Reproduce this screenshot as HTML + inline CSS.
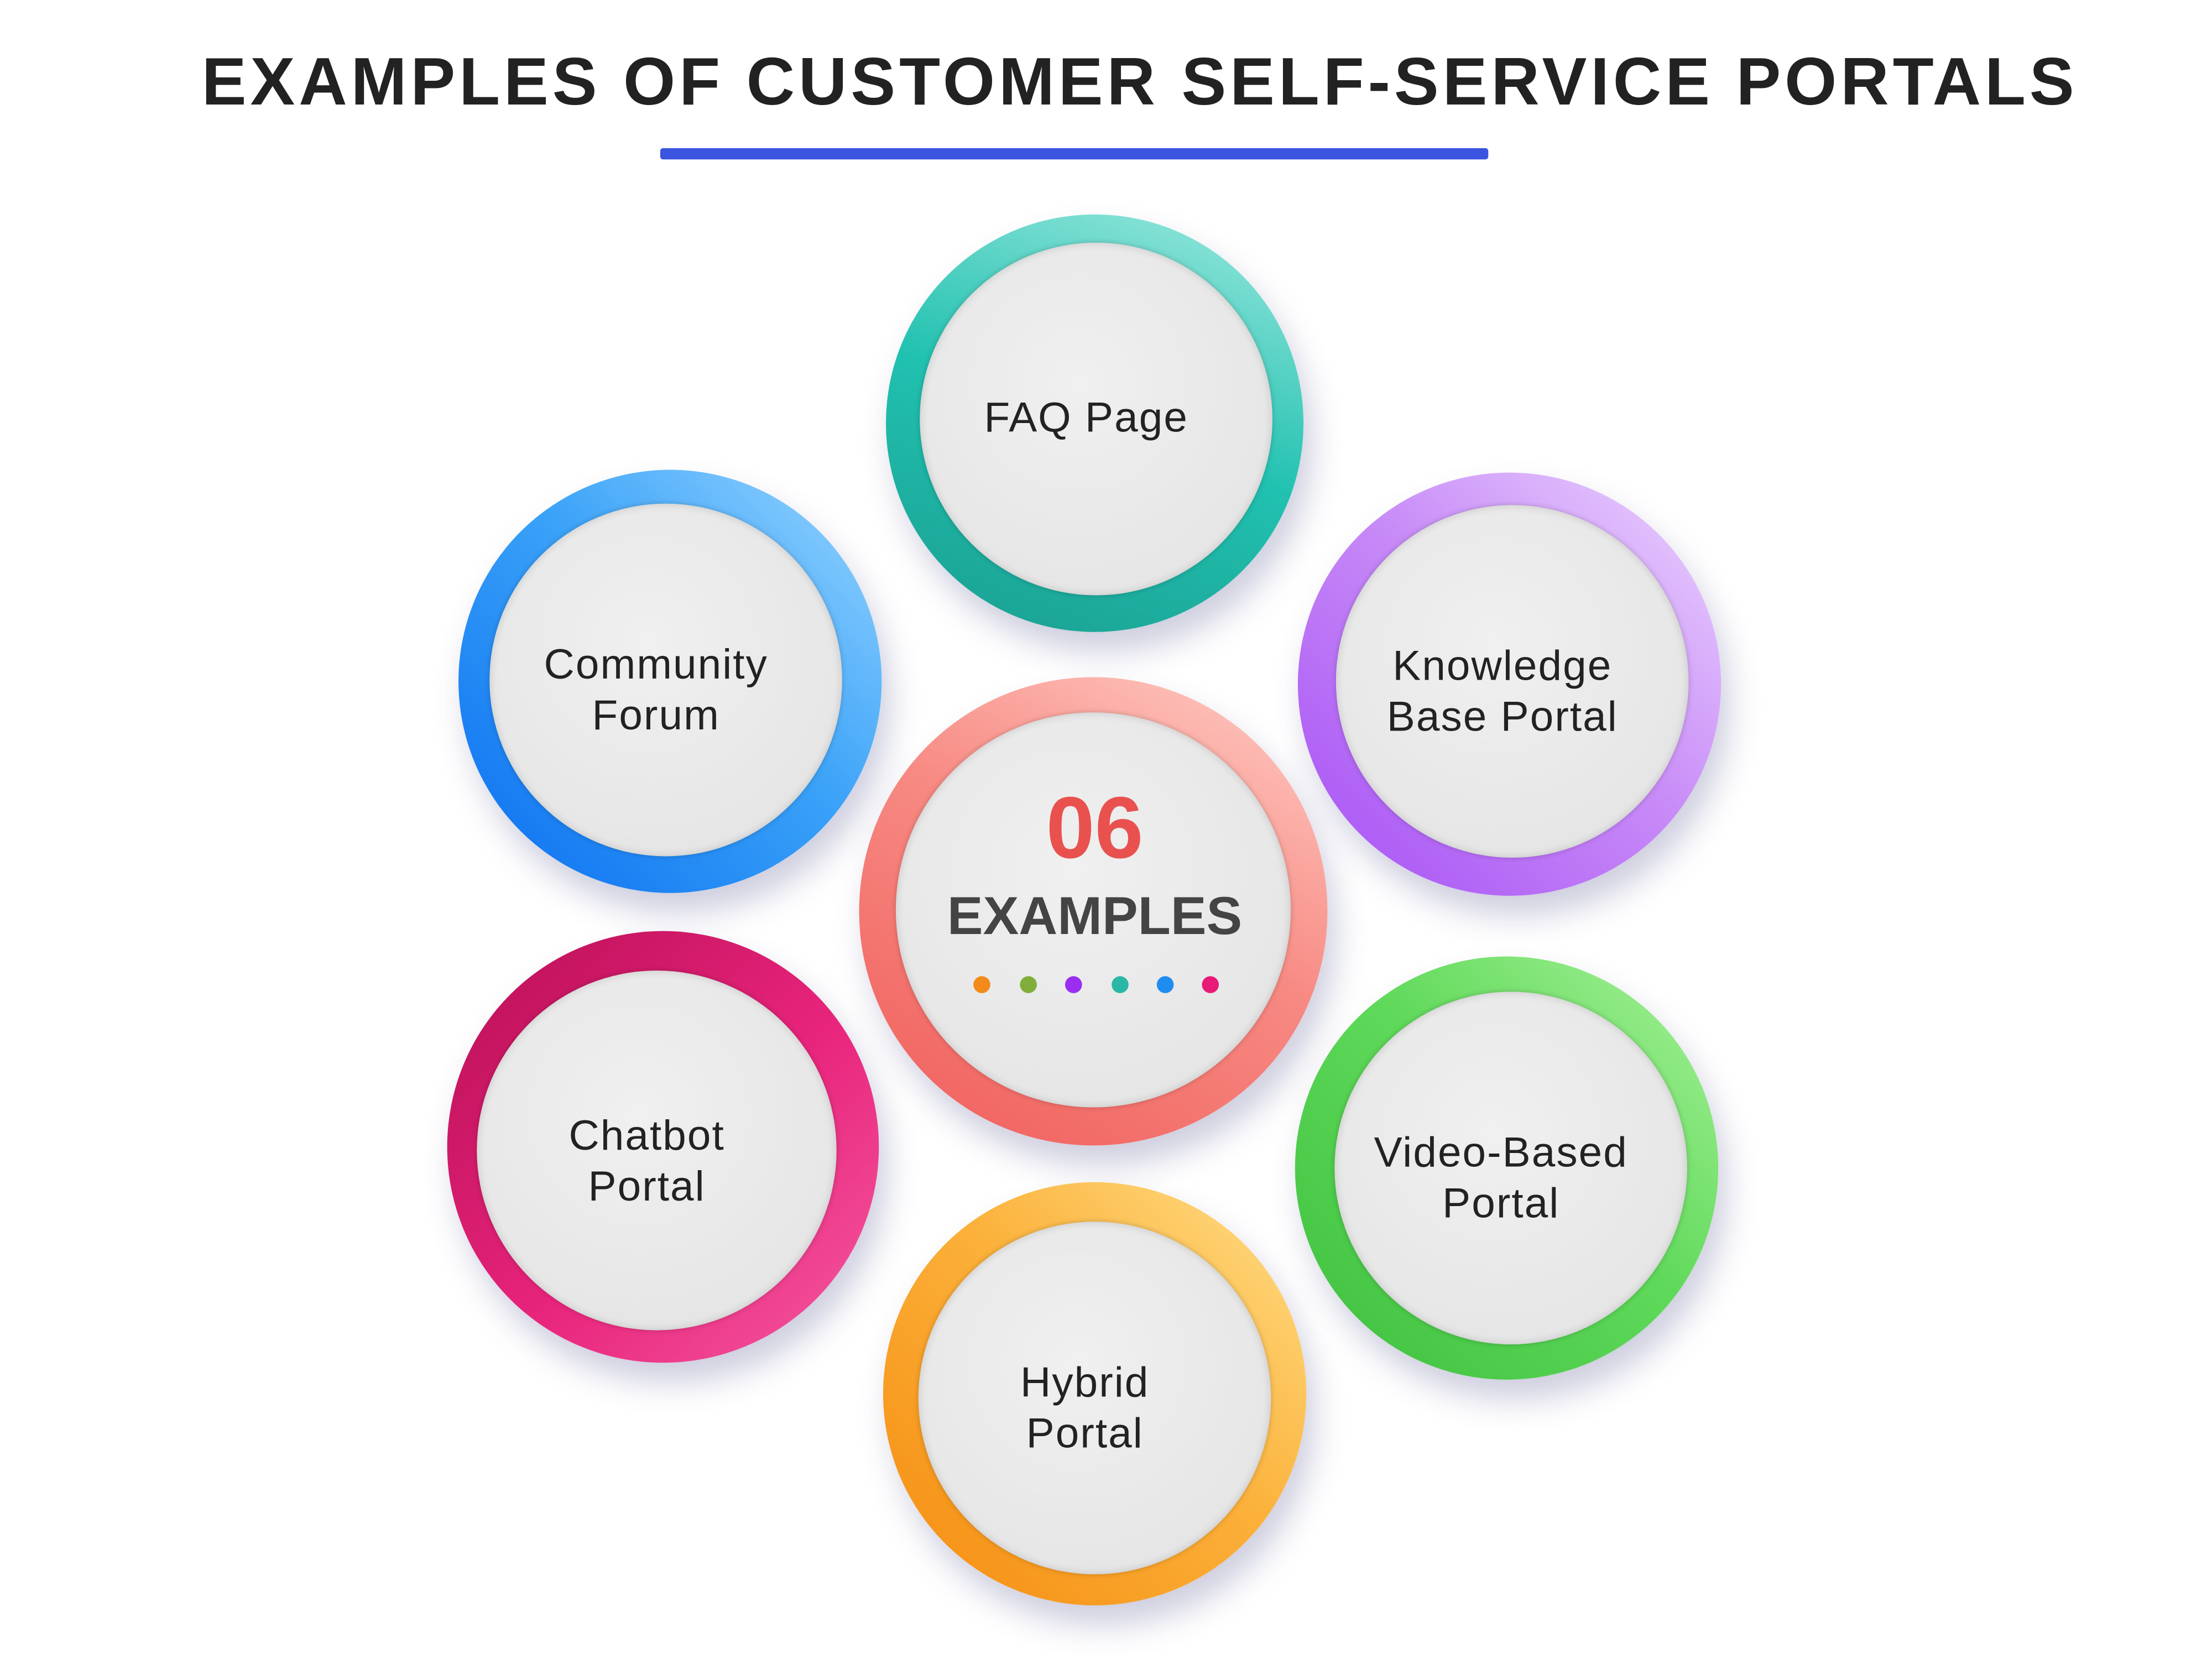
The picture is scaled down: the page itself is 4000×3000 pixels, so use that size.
<!DOCTYPE html>
<html><head><meta charset="utf-8"><style>
html,body{margin:0;padding:0;background:#fff;width:4000px;height:3000px;overflow:hidden}
#s{position:absolute;left:0;top:0;width:1568px;height:1176px;transform:scale(2.551);transform-origin:0 0;font-family:"Liberation Sans",sans-serif}
.t{position:absolute;left:0;width:1616px;top:31px;text-align:center;font-weight:bold;font-size:47.5px;letter-spacing:2.7px;color:#222}
.bar{position:absolute;left:468px;top:105px;width:587px;height:8px;background:#3b55e0;border-radius:2px}
.c{position:absolute;border-radius:50%;box-shadow:6px 14px 22px rgba(80,80,140,.28)}
.i{position:absolute;border-radius:50%;background:radial-gradient(circle at 45% 40%,#f0f0f0,#e2e2e2);box-shadow:inset 0 0 6px rgba(0,0,0,.15),0 0 4px rgba(0,0,0,.2);display:flex;align-items:center;justify-content:center;text-align:center;font-size:30px;line-height:36px;color:#222;letter-spacing:.8px;box-sizing:border-box;padding-top:16px;padding-right:14px}
.d{position:absolute;top:692px;width:12px;height:12px;border-radius:50%}
</style></head><body><div id="s">
<div class="t">EXAMPLES OF CUSTOMER SELF-SERVICE PORTALS</div>
<div class="bar"></div>

<div class="c" style="left:628px;top:152px;width:296px;height:296px;background:linear-gradient(200deg,#9ee9df,#21c1b0 50%,#1a9e90)"></div>
<div class="i" style="left:652px;top:172px;width:250px;height:250px;padding-top:0">FAQ Page</div>

<div class="c" style="left:325px;top:333px;width:300px;height:300px;background:linear-gradient(45deg,#0a6ef0,#3aa2f8 55%,#9ad6ff)"></div>
<div class="i" style="left:347px;top:357px;width:250px;height:250px">Community<br>Forum</div>

<div class="c" style="left:920px;top:335px;width:300px;height:300px;background:linear-gradient(45deg,#a64ff5,#c88cf7 55%,#ecd6ff)"></div>
<div class="i" style="left:947px;top:358px;width:250px;height:250px">Knowledge<br>Base Portal</div>

<div class="c" style="left:609px;top:480px;width:332px;height:332px;background:linear-gradient(30deg,#f05d5a,#f78a83 55%,#ffd0c8)"></div>
<div class="i" style="left:635px;top:505px;width:280px;height:280px"></div>
<div style="position:absolute;left:610px;width:332px;top:552px;text-align:center;font-weight:bold;font-size:62px;color:#e9514e">06</div>
<div style="position:absolute;left:610px;width:332px;top:629px;text-align:center;font-weight:bold;font-size:38px;color:#444">EXAMPLES</div>
<div class="d" style="left:690px;background:#f28b1c"></div>
<div class="d" style="left:723px;background:#7fae3a"></div>
<div class="d" style="left:755px;background:#9a2df0"></div>
<div class="d" style="left:788px;background:#2bb7a6"></div>
<div class="d" style="left:820px;background:#1f8cf0"></div>
<div class="d" style="left:852px;background:#e81a78"></div>

<div class="c" style="left:317px;top:660px;width:306px;height:306px;background:linear-gradient(315deg,#f55aa0,#e8247c 45%,#b80f55)"></div>
<div class="i" style="left:338px;top:688px;width:255px;height:255px">Chatbot<br>Portal</div>

<div class="c" style="left:918px;top:678px;width:300px;height:300px;background:linear-gradient(45deg,#3ebf3e,#5fd95a 55%,#a9f29a)"></div>
<div class="i" style="left:946px;top:703px;width:250px;height:250px">Video-Based<br>Portal</div>

<div class="c" style="left:626px;top:838px;width:300px;height:300px;background:linear-gradient(45deg,#f58b0f,#fbb13a 55%,#ffe08a)"></div>
<div class="i" style="left:651px;top:866px;width:250px;height:250px">Hybrid<br>Portal</div>
</div></body></html>
